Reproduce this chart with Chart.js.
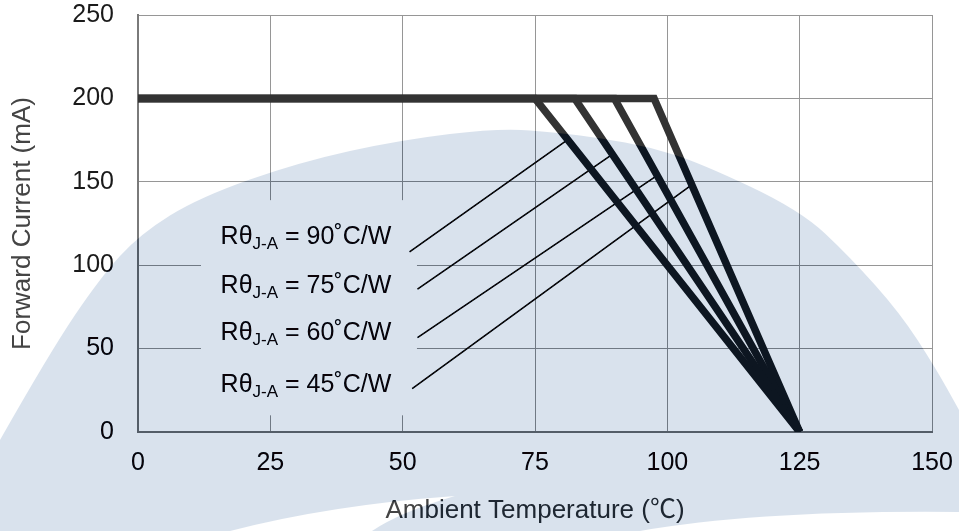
<!DOCTYPE html>
<html lang="en">
<head>
<meta charset="UTF-8">
<title>Forward Current Derating</title>
<script src="https://cdn.jsdelivr.net/npm/chart.js@4.4.0/dist/chart.umd.min.js"></script>
<style>
  html, body { margin: 0; padding: 0; background: #fff; }
</style>
</head>
<body>
<canvas id="derating" width="959" height="531"></canvas>
<script>
// derating: flat at max current up to the knee, then straight down to zero
var maxCurrent = 200;
var zeroTemp = 125;
var kneeTemps = [75, 82.5, 90, 97.5];
var rthValues = ['90', '75', '60', '45'];
// leader lines from the labels to the curves, [temp, mA]
var leaderFrom = [[51.3, 108], [52.8, 85.6], [52.8, 56.6], [51.8, 26]];
var leaderTo = [[81.2, 175.3], [89.6, 166.4], [98.1, 153.9], [104.6, 148.1]];
var xTicks = [0, 25, 50, 75, 100, 125, 150];
var yTicks = [0, 50, 100, 150, 200, 250];

var FONT = '"Liberation Sans", Arial, "Noto Sans CJK JP", sans-serif';

var datasets = [];
kneeTemps.forEach(function (k) {
    datasets.push({
        data: [{x: 0, y: maxCurrent}, {x: k, y: maxCurrent}, {x: zeroTemp, y: 0}],
        borderColor: '#333333',
        borderWidth: 7.5,
        borderCapStyle: 'butt',
        borderJoinStyle: 'miter',
        clip: {left: 5, top: 5, right: 5, bottom: 0}
    });
});
leaderFrom.forEach(function (p, i) {
    datasets.push({
        data: [{x: p[0], y: p[1]}, {x: leaderTo[i][0], y: leaderTo[i][1]}],
        borderColor: '#111111',
        borderWidth: 1.5
    });
});

// white box behind the labels + the labels themselves
var labelPlugin = {
    id: 'labels',
    beforeDraw: function (chart) {
        var ctx = chart.ctx;
        ctx.save();
        ctx.fillStyle = '#fff';
        ctx.fillRect(0, 0, chart.width, chart.height);
        ctx.restore();
    },
    beforeDatasetsDraw: function (chart) {
        var ctx = chart.ctx, xs = chart.scales.x, ys = chart.scales.y;
        ctx.save();
        ctx.fillStyle = '#fff';
        var bx = xs.getPixelForValue(11.9), by = ys.getPixelForValue(139);
        ctx.fillRect(bx, by, xs.getPixelForValue(52.7) - bx, ys.getPixelForValue(10) - by);

        var baseY = [113, 83.4, 55, 24];
        ctx.fillStyle = '#1a1a1a';
        ctx.textBaseline = 'alphabetic';
        ctx.textAlign = 'left';
        rthValues.forEach(function (v, i) {
            var x = xs.getPixelForValue(15.6), y = ys.getPixelForValue(baseY[i]);
            ctx.font = '25px ' + FONT;
            ctx.fillText('R\u03b8', x, y);
            x += ctx.measureText('R\u03b8').width;
            ctx.font = '17px ' + FONT;
            ctx.fillText('J-A', x, y + 5);
            x += ctx.measureText('J-A').width;
            ctx.font = '25px ' + FONT;
            ctx.fillText(' = ' + v + '\u02daC/W', x, y);
        });
        ctx.restore();
    },
    // light blue watermark laid over everything
    afterDraw: function (chart) {
        var ctx = chart.ctx, W = chart.width, H = chart.height;
        var pts = [[0, 440], [50, 352], [100, 278], [140, 234], [200, 197], [300, 162], [400, 140],
                   [500, 128], [560, 133], [600, 138], [650, 147], [700, 163], [800, 210],
                   [850, 257], [900, 313], [935, 367], [959, 410]];
        ctx.save();
        ctx.globalCompositeOperation = 'difference';
        ctx.fillStyle = 'rgb(38,29,18)';
        ctx.beginPath();
        ctx.moveTo(0, H);
        ctx.lineTo(pts[0][0], pts[0][1]);
        for (var i = 1; i < pts.length - 1; i++) {
            var mx = (pts[i][0] + pts[i + 1][0]) / 2, my = (pts[i][1] + pts[i + 1][1]) / 2;
            ctx.quadraticCurveTo(pts[i][0], pts[i][1], mx, my);
        }
        ctx.lineTo(pts[pts.length - 1][0], pts[pts.length - 1][1]);
        ctx.lineTo(W, H);
        ctx.closePath();
        // white swooshes near the bottom
        ctx.moveTo(230, H);
        ctx.quadraticCurveTo(330, 505, 455, 496);
        ctx.quadraticCurveTo(400, 512, 372, H);
        ctx.closePath();
        ctx.moveTo(640, H);
        ctx.quadraticCurveTo(760, 510, W, 512);
        ctx.lineTo(W, H);
        ctx.closePath();
        ctx.fill('evenodd');
        ctx.restore();
    }
};

new Chart(document.getElementById('derating'), {
    type: 'scatter',
    data: {datasets: datasets},
    options: {
        responsive: false,
        animation: false,
        showLine: true,
        elements: {point: {radius: 0, hoverRadius: 0}},
        layout: {padding: {left: 0, right: 27, top: 15, bottom: 0}},
        plugins: {legend: {display: false}, tooltip: {enabled: false}},
        scales: {
            x: {
                type: 'linear', min: 0, max: 150,
                afterBuildTicks: function (s) { s.ticks = xTicks.map(function (v) { return {value: v}; }); },
                afterFit: function (s) { s.height = 99; },
                // invisible tick marks give the label gap without inflating the layout padding
                grid: {color: '#969696', lineWidth: 1, drawTicks: true, tickLength: 16, tickColor: 'rgba(0,0,0,0)'},
                border: {color: '#7a7a7a', width: 2},
                ticks: {color: '#1a1a1a', padding: 0, font: {family: FONT, size: 25}, maxRotation: 0},
                title: {display: true, text: 'Ambient Temperature (\u2103)', color: '#444',
                        font: {family: FONT, size: 26}, padding: {top: 0, bottom: 5}}
            },
            y: {
                type: 'linear', min: 0, max: 250,
                afterBuildTicks: function (s) { s.ticks = yTicks.map(function (v) { return {value: v}; }); },
                afterFit: function (s) { s.width = 138; },
                grid: {color: '#969696', lineWidth: 1, drawTicks: true, tickLength: 24, tickColor: 'rgba(0,0,0,0)'},
                border: {color: '#7a7a7a', width: 2},
                ticks: {color: '#1a1a1a', padding: 0, font: {family: FONT, size: 25}},
                title: {display: true, text: 'Forward Current (mA)', color: '#444',
                        font: {family: FONT, size: 26}, padding: {top: 7, bottom: 0}}
            }
        }
    },
    plugins: [labelPlugin]
});
</script>
</body>
</html>
